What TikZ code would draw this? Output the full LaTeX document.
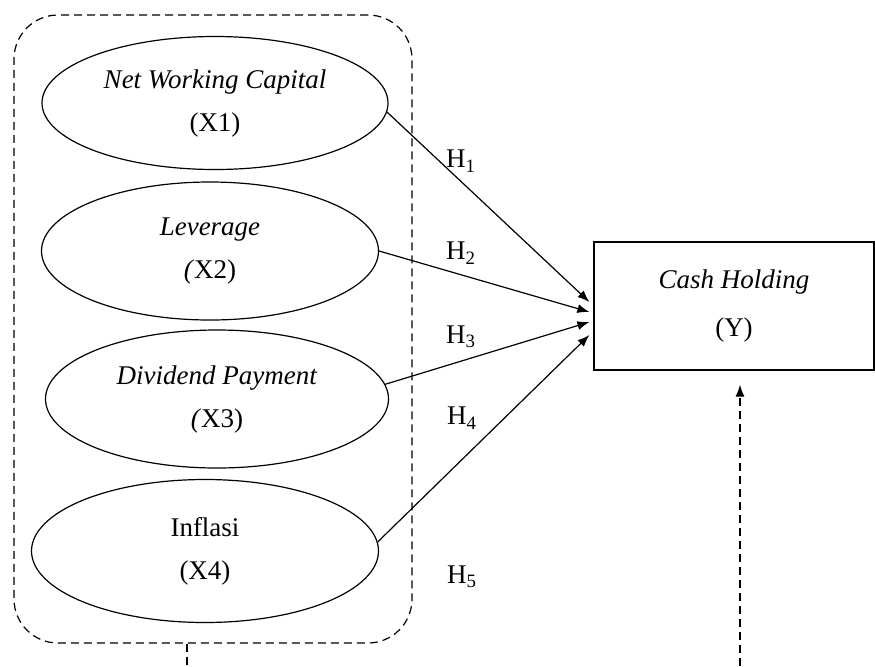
\documentclass[tikz,border=0pt]{standalone}
\usepackage{fontspec}
\setmainfont{Liberation Serif}
\usetikzlibrary{shapes.geometric,arrows.meta,calc}

\begin{document}
\begin{tikzpicture}[x=0.5pt,y=-0.5pt]
    	\tikzset{varell/.style={draw,ellipse,line width=0.6pt,inner sep=0pt,align=center,
    	    font=\fontsize{13.5}{21.5}\selectfont}}
    	\tikzset{depbox/.style={draw,rectangle,line width=0.6pt,inner sep=0pt,align=center,
    	    minimum width=140pt,minimum height=64pt,font=\fontsize{13.5}{24}\selectfont}}
    	\tikzset{grpbox/.style={draw,rectangle,rounded corners=22pt,line width=0.6pt,
    	    dash pattern=on 4pt off 2.5pt,minimum width=199pt,minimum height=314pt}}
    	\tikzset{hyp/.style={font=\fontsize{13.5}{16}\selectfont,inner sep=0pt}}
    	\tikzset{arr/.style={-{Latex[length=6pt,width=4.5pt]},line width=0.6pt}}
    	\tikzset{dasharr/.style={-{Latex[length=6pt,width=4.5pt]},line width=0.6pt,
    	    dash pattern=on 4pt off 2.5pt}}

    	\useasboundingbox (0,0) rectangle (875,666);

    	% the group of independent variables
    	\node[grpbox] (grp) at (213,329) {};
    	\node[varell,minimum width=173pt,minimum height=66.5pt] (x1) at (215,103)
    	  {\textit{Net Working Capital}\\(X1)};
    	\node[varell,minimum width=168.5pt,minimum height=69pt] (x2) at (210,251)
    	  {\textit{Leverage}\\\textit{(}X2)};
    	\node[varell,minimum width=171.5pt,minimum height=69pt] (x3) at (217,399)
    	  {\textit{Dividend Payment}\\\textit{(}X3)};
    	\node[varell,minimum width=173.5pt,minimum height=71.5pt] (x4) at (205,551)
    	  {Inflasi\\(X4)};

    	% dependent variable
    	\node[depbox] (y) at (734,306) {\textit{Cash Holding}\\(Y)};

    	\node[hyp] (h1) at (461,161) {H\textsubscript{1}};
    	\node[hyp] (h2) at (461,253) {H\textsubscript{2}};
    	\node[hyp] (h3) at (461,337) {H\textsubscript{3}};
    	\node[hyp] (h4) at (462,418) {H\textsubscript{4}};
    	\node[hyp] (h5) at (462,577) {H\textsubscript{5}};

    	\draw[arr] (x1.-3) -- ($(y.west)+(-4,-4)$);
    	\draw[arr] (x2.east) -- ($(y.west)+(-4,6)$);
    	\draw[arr] (x3.5) -- ($(y.west)+(-4,16)$);
    	\draw[arr] (x4.3) -- ($(y.west)+(-4,29)$);

    	\coordinate (grpfoot) at ($(grp.south)+(-26,23)$);
    	\coordinate (yfoot) at (740,666);
    	\draw[line width=0.6pt,dash pattern=on 4pt off 2.5pt] ($(grp.south)+(-26,0)$) -- (grpfoot);
    	\draw[dasharr] (yfoot) -- ($(y.south)+(6,14)$);
\end{tikzpicture}
\end{document}
